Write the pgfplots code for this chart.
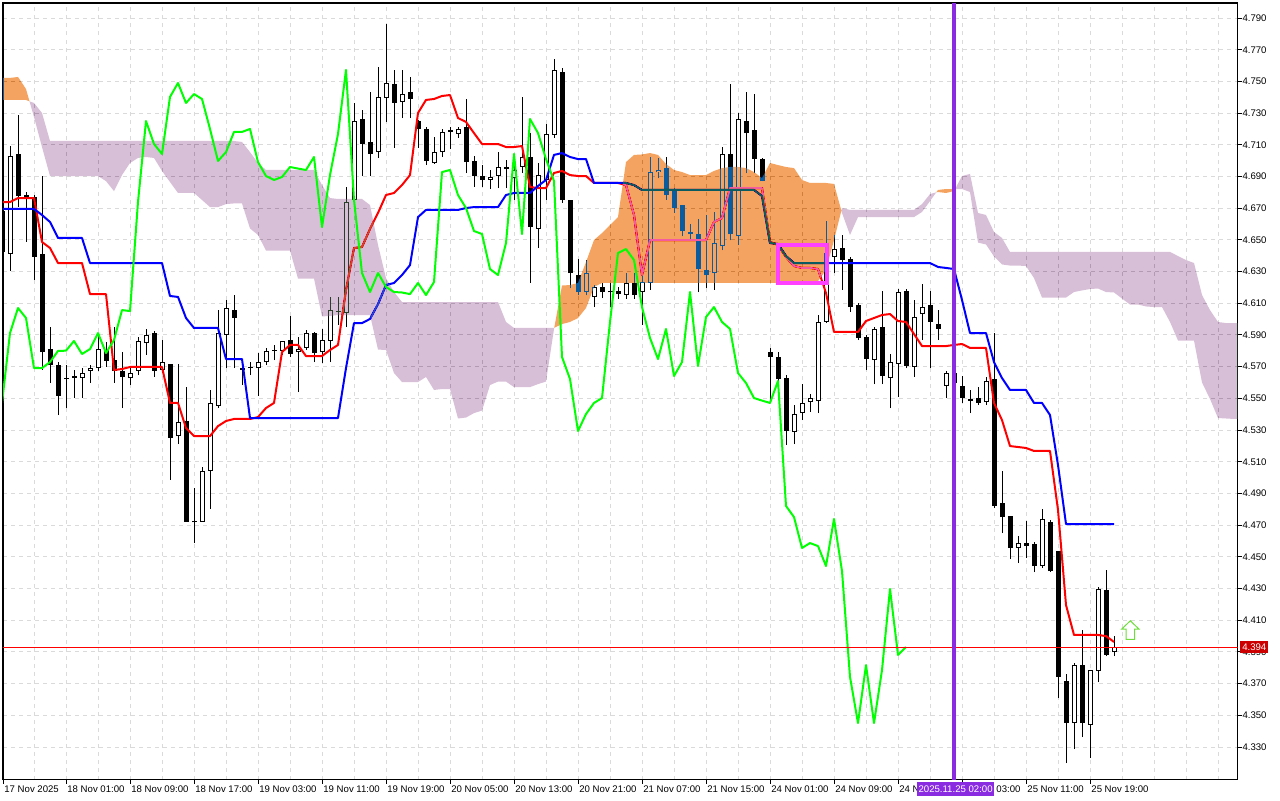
\documentclass[border=0pt]{standalone}
\usepackage{fontspec}
\setmainfont{Liberation Sans}
\usepackage{pgfplots}
\usepackage{pgfplotstable}
\pgfplotsset{compat=1.18}

\definecolor{sandyinv}{RGB}{11,91,159}   % inverse of sandy brown, blended with difference
\definecolor{thistleinv}{RGB}{39,64,39}  % inverse of thistle
\definecolor{gridc}{RGB}{218,218,218}
\definecolor{chikou}{RGB}{0,255,0}
\definecolor{vline}{RGB}{138,43,226}
\definecolor{boxmag}{RGB}{255,64,255}
\definecolor{pricebox}{RGB}{204,0,0}
\definecolor{arrowc}{RGB}{110,220,60}

\pgfdeclareplotmark{uparr}{%
  \pgfpathmoveto{\pgfqpoint{0pt}{4.65pt}}%
  \pgfpathlineto{\pgfqpoint{4.3pt}{0.5pt}}%
  \pgfpathlineto{\pgfqpoint{2.15pt}{0.5pt}}%
  \pgfpathlineto{\pgfqpoint{2.15pt}{-4.65pt}}%
  \pgfpathlineto{\pgfqpoint{-2.15pt}{-4.65pt}}%
  \pgfpathlineto{\pgfqpoint{-2.15pt}{0.5pt}}%
  \pgfpathlineto{\pgfqpoint{-4.3pt}{0.5pt}}%
  \pgfpathclose
  \pgfusepathqfillstroke}

% H1 candles: bar index, open, high, low, close
\pgfplotstableread{
i o h l c
0 4.6682 4.6752 4.6310 4.6424
1 4.6411 4.7092 4.6304 4.7029
2 4.7042 4.7288 4.6707 4.6777
3 4.6771 4.6802 4.6487 4.6783
4 4.6771 4.6783 4.6247 4.6392
5 4.6411 4.6903 4.5679 4.5792
6 4.5811 4.5950 4.5597 4.5710
7 4.5710 4.5729 4.5395 4.5515
8 4.5628 4.5710 4.5439 4.5622
9 4.5641 4.5679 4.5502 4.5628
10 4.5628 4.5691 4.5502 4.5660
11 4.5673 4.5710 4.5597 4.5691
12 4.5691 4.5912 4.5673 4.5811
13 4.5805 4.5856 4.5698 4.5736
14 4.5742 4.5950 4.5597 4.5673
15 4.5673 4.5792 4.5439 4.5635
16 4.5628 4.5698 4.5584 4.5660
17 4.5673 4.5887 4.5647 4.5862
18 4.5849 4.5938 4.5774 4.5900
19 4.5912 4.5925 4.5635 4.5673
20 4.5679 4.5868 4.5660 4.5729
21 4.5717 4.5717 4.4985 4.5250
22 4.5262 4.5717 4.5212 4.5351
23 4.5357 4.5571 4.4720 4.4720
24 4.4720 4.4934 4.4587 4.4717
25 4.4720 4.5067 4.4720 4.5042
26 4.5042 4.5553 4.4802 4.5471
27 4.5452 4.6057 4.5439 4.5912
28 4.5900 4.6121 4.5691 4.6070
29 4.6057 4.6152 4.5691 4.6007
30 4.5679 4.5710 4.5584 4.5691
31 4.5698 4.5729 4.5647 4.5691
32 4.5691 4.5786 4.5515 4.5729
33 4.5729 4.5818 4.5710 4.5799
34 4.5799 4.5837 4.5742 4.5801
35 4.5799 4.5862 4.5774 4.5862
36 4.5868 4.6020 4.5761 4.5780
37 4.5792 4.5887 4.5540 4.5811
38 4.5818 4.5931 4.5805 4.5912
39 4.5912 4.5919 4.5729 4.5786
40 4.5792 4.5938 4.5723 4.5868
41 4.5862 4.6140 4.5729 4.6057
42 4.6045 4.6140 4.5963 4.6051
43 4.6039 4.6834 4.5950 4.6739
44 4.6752 4.7364 4.6720 4.7250
45 4.7263 4.7320 4.6903 4.7105
46 4.7118 4.7433 4.6903 4.7042
47 4.7054 4.7591 4.7017 4.7402
48 4.7395 4.7862 4.7244 4.7490
49 4.7484 4.7572 4.7080 4.7364
50 4.7370 4.7572 4.7269 4.7420
51 4.7433 4.7528 4.7269 4.7389
52 4.7250 4.7256 4.7080 4.7200
53 4.7200 4.7212 4.6972 4.6998
54 4.6985 4.7149 4.6979 4.7054
55 4.7054 4.7200 4.7023 4.7181
56 4.7193 4.7212 4.7073 4.7181
57 4.7168 4.7212 4.7143 4.7200
58 4.7212 4.7389 4.6922 4.6991
59 4.6998 4.7029 4.6834 4.6903
60 4.6903 4.6972 4.6834 4.6878
61 4.6878 4.6941 4.6821 4.6897
62 4.6903 4.7054 4.6827 4.6960
63 4.6953 4.7004 4.6827 4.6950
64 4.6890 4.7004 4.6752 4.6941
65 4.6960 4.7402 4.6922 4.7023
66 4.7023 4.7174 4.6228 4.6581
67 4.6569 4.6985 4.6449 4.6909
68 4.6878 4.7231 4.6752 4.7168
69 4.7162 4.7641 4.7143 4.7572
70 4.7559 4.7585 4.6733 4.6752
71 4.6752 4.6752 4.6196 4.6291
72 4.6278 4.6379 4.6152 4.6171
73 4.6171 4.6373 4.6152 4.6291
74 4.6140 4.6215 4.6076 4.6203
75 4.6203 4.6228 4.6133 4.6171
76 4.6171 4.6228 4.6076 4.6168
77 4.6177 4.6203 4.6127 4.6158
78 4.6152 4.6291 4.6127 4.6228
79 4.6228 4.6291 4.6127 4.6152
80 4.6171 4.6310 4.5963 4.6234
81 4.6228 4.7023 4.6184 4.6928
82 4.6928 4.7017 4.6890 4.6941
83 4.6953 4.7023 4.6752 4.6783
84 4.6821 4.6827 4.6670 4.6701
85 4.6720 4.6720 4.6524 4.6556
86 4.6550 4.6600 4.6499 4.6537
87 4.6537 4.6632 4.6171 4.6316
88 4.6310 4.6657 4.6196 4.6278
89 4.6291 4.6676 4.6184 4.6480
90 4.6461 4.7086 4.6436 4.7042
91 4.7042 4.7484 4.6499 4.6537
92 4.6524 4.7301 4.6468 4.7263
93 4.7250 4.7433 4.6922 4.7174
94 4.7193 4.7420 4.6922 4.7010
95 4.7010 4.7017 4.6871 4.6871
96 4.5792 4.5818 4.5477 4.5761
97 4.5761 4.5792 4.5584 4.5622
98 4.5628 4.5647 4.5206 4.5294
99 4.5288 4.5458 4.5212 4.5401
100 4.5407 4.5590 4.5363 4.5471
101 4.5477 4.5527 4.5414 4.5502
102 4.5483 4.6026 4.5407 4.5982
103 4.5982 4.6619 4.5975 4.6417
104 4.6392 4.6531 4.6291 4.6442
105 4.6449 4.6531 4.6184 4.6373
106 4.6379 4.6392 4.6045 4.6076
107 4.6089 4.6102 4.5868 4.5881
108 4.5887 4.5900 4.5679 4.5748
109 4.5742 4.5950 4.5590 4.5938
110 4.5950 4.6177 4.5590 4.5641
111 4.5628 4.5780 4.5439 4.5729
112 4.5717 4.6190 4.5509 4.6171
113 4.6177 4.6190 4.5691 4.5704
114 4.5698 4.6121 4.5635 4.6013
115 4.6032 4.6222 4.5868 4.6076
116 4.6089 4.6177 4.5691 4.5982
117 4.5969 4.6057 4.5868 4.5938
118 4.5578 4.5673 4.5502 4.5660
119 4.5660 4.5691 4.5540 4.5597
120 4.5578 4.5641 4.5471 4.5502
121 4.5490 4.5553 4.5407 4.5486
122 4.5502 4.5571 4.5458 4.5471
123 4.5477 4.5635 4.5458 4.5610
124 4.5622 4.5912 4.4808 4.4821
125 4.4840 4.5042 4.4650 4.4751
126 4.4758 4.4758 4.4486 4.4556
127 4.4556 4.4631 4.4461 4.4587
128 4.4587 4.4726 4.4493 4.4568
129 4.4581 4.4594 4.4404 4.4442
130 4.4442 4.4802 4.4430 4.4739
131 4.4720 4.4732 4.4404 4.4410
132 4.4537 4.4537 4.3609 4.3742
133 4.3716 4.3761 4.3199 4.3451
134 4.3451 4.3830 4.3287 4.3817
135 4.3817 4.4038 4.3363 4.3451
136 4.3439 4.3786 4.3231 4.3786
137 4.3779 4.4310 4.3710 4.4297
138 4.4291 4.4417 4.3874 4.3881
139 4.3899 4.4000 4.3874 4.3931
}\candles

% Tenkan-sen (t) and Kijun-sen (k)
\pgfplotstableread{
i t k
0 4.6739 4.6695
1 4.6739 4.6695
2 4.6764 4.6695
3 4.6764 4.6695
4 4.6764 4.6695
5 4.6487 4.6657
6 4.6449 4.6613
7 4.6354 4.6512
8 4.6354 4.6512
9 4.6354 4.6512
10 4.6354 4.6512
11 4.6158 4.6354
12 4.6158 4.6354
13 4.6158 4.6354
14 4.5679 4.6354
15 4.5685 4.6354
16 4.5698 4.6354
17 4.5698 4.6354
18 4.5698 4.6354
19 4.5698 4.6354
20 4.5698 4.6354
21 4.5471 4.6146
22 4.5471 4.6140
23 4.5313 4.6007
24 4.5262 4.5944
25 4.5262 4.5944
26 4.5262 4.5944
27 4.5325 4.5944
28 4.5357 4.5748
29 4.5370 4.5748
30 4.5370 4.5748
31 4.5370 4.5376
32 4.5382 4.5376
33 4.5439 4.5376
34 4.5471 4.5376
35 4.5792 4.5376
36 4.5837 4.5376
37 4.5837 4.5376
38 4.5767 4.5376
39 4.5767 4.5376
40 4.5767 4.5376
41 4.5805 4.5376
42 4.5837 4.5376
43 4.6184 4.5691
44 4.6449 4.5975
45 4.6455 4.5975
46 4.6569 4.6001
47 4.6670 4.6095
48 4.6783 4.6215
49 4.6796 4.6228
50 4.6846 4.6278
51 4.6909 4.6341
52 4.7301 4.6644
53 4.7383 4.6689
54 4.7389 4.6689
55 4.7408 4.6689
56 4.7414 4.6689
57 4.7269 4.6689
58 4.7244 4.6701
59 4.7174 4.6707
60 4.7105 4.6707
61 4.7105 4.6707
62 4.7105 4.6707
63 4.7086 4.6783
64 4.7086 4.6796
65 4.7092 4.6796
66 4.6834 4.6796
67 4.6827 4.6840
68 4.6827 4.6878
69 4.6922 4.7036
70 4.6935 4.7048
71 4.6909 4.7023
72 4.6903 4.7010
73 4.6903 4.7010
74 4.6859 4.6859
75 4.6859 4.6859
76 4.6859 4.6859
77 4.6859 4.6859
78 4.6846 4.6859
79 4.6657 4.6846
80 4.6278 4.6815
81 4.6499 4.6815
82 4.6499 4.6815
83 4.6499 4.6815
84 4.6499 4.6815
85 4.6499 4.6815
86 4.6499 4.6815
87 4.6499 4.6815
88 4.6499 4.6815
89 4.6613 4.6815
90 4.6638 4.6815
91 4.6827 4.6815
92 4.6827 4.6815
93 4.6827 4.6815
94 4.6827 4.6815
95 4.6827 4.6777
96 4.6487 4.6480
97 4.6468 4.6474
98 4.6392 4.6398
99 4.6335 4.6354
100 4.6323 4.6354
101 4.6323 4.6354
102 4.6316 4.6354
103 4.6165 4.6354
104 4.5919 4.6354
105 4.5919 4.6354
106 4.5919 4.6354
107 4.5919 4.6354
108 4.5988 4.6354
109 4.6007 4.6354
110 4.6026 4.6354
111 4.6032 4.6354
112 4.5988 4.6354
113 4.5982 4.6354
114 4.5906 4.6354
115 4.5830 4.6354
116 4.5830 4.6354
117 4.5830 4.6329
118 4.5830 4.6323
119 4.5837 4.6316
120 4.5843 4.6121
121 4.5818 4.5912
122 4.5818 4.5912
123 4.5818 4.5912
124 4.5471 4.5729
125 4.5363 4.5628
126 4.5199 4.5553
127 4.5193 4.5553
128 4.5187 4.5553
129 4.5168 4.5471
130 4.5168 4.5471
131 4.5168 4.5395
132 4.4796 4.5079
133 4.4196 4.4707
134 4.4007 4.4707
135 4.4007 4.4707
136 4.4007 4.4707
137 4.4007 4.4707
138 4.4000 4.4707
139 4.3963 4.4707
}\lines

% Chikou span (close shifted 26 bars back)
\pgfplotstableread{
i ch
0 4.5471
1 4.5912
2 4.6070
3 4.6007
4 4.5691
5 4.5691
6 4.5729
7 4.5799
8 4.5801
9 4.5862
10 4.5780
11 4.5811
12 4.5912
13 4.5786
14 4.5868
15 4.6057
16 4.6051
17 4.6739
18 4.7250
19 4.7105
20 4.7042
21 4.7402
22 4.7490
23 4.7364
24 4.7420
25 4.7389
26 4.7200
27 4.6998
28 4.7054
29 4.7181
30 4.7181
31 4.7200
32 4.6991
33 4.6903
34 4.6878
35 4.6897
36 4.6960
37 4.6950
38 4.6941
39 4.7023
40 4.6581
41 4.6909
42 4.7168
43 4.7572
44 4.6752
45 4.6291
46 4.6171
47 4.6291
48 4.6203
49 4.6171
50 4.6168
51 4.6158
52 4.6228
53 4.6152
54 4.6234
55 4.6928
56 4.6941
57 4.6783
58 4.6701
59 4.6556
60 4.6537
61 4.6316
62 4.6278
63 4.6480
64 4.7042
65 4.6537
66 4.7263
67 4.7174
68 4.7010
69 4.6871
70 4.5761
71 4.5622
72 4.5294
73 4.5401
74 4.5471
75 4.5502
76 4.5982
77 4.6417
78 4.6442
79 4.6373
80 4.6076
81 4.5881
82 4.5748
83 4.5938
84 4.5641
85 4.5729
86 4.6171
87 4.5704
88 4.6013
89 4.6076
90 4.5982
91 4.5938
92 4.5660
93 4.5597
94 4.5502
95 4.5486
96 4.5471
97 4.5610
98 4.4821
99 4.4751
100 4.4556
101 4.4587
102 4.4568
103 4.4442
104 4.4739
105 4.4410
106 4.3742
107 4.3451
108 4.3817
109 4.3451
110 4.3786
111 4.4297
112 4.3881
113 4.3931
}\chikoutab

\begin{document}
\begin{tikzpicture}
\useasboundingbox (0,0) rectangle (640pt,400pt);
\begin{axis}[
    at={(1.5pt,10.25pt)}, anchor=south west,
    width=617.25pt, height=388.25pt, scale only axis,
    xmin=0.125, xmax=154.4375, ymin=4.3095, ymax=4.79947,
    axis background/.style={fill=white},
    axis line style={black, line width=0.6pt},
    xtick={0.125,8,16,24,32,40,48,56,64,72,80,88,96,104,112,120,128,136},
    xticklabels={17 Nov 2025,18 Nov 01:00,18 Nov 09:00,18 Nov 17:00,19 Nov 03:00,19 Nov 11:00,19 Nov 19:00,20 Nov 05:00,20 Nov 13:00,20 Nov 21:00,21 Nov 07:00,21 Nov 15:00,24 Nov 01:00,24 Nov 09:00,24 Nov 17:00,25 Nov 03:00,25 Nov 11:00,25 Nov 19:00},
    minor xtick={4,12,...,132,140,144,148,152},
    ytick={4.33,4.35,4.37,4.39,4.41,4.43,4.45,4.47,4.49,4.51,4.53,4.55,4.57,4.59,4.61,4.63,4.65,4.67,4.69,4.71,4.73,4.75,4.77,4.79},
    yticklabels={4.330,4.350,4.370,4.390,4.410,4.430,4.450,4.470,4.490,4.510,4.530,4.550,4.570,4.590,4.610,4.630,4.650,4.670,4.690,4.710,4.730,4.750,4.770,4.790},
    xtick pos=left, ytick pos=right, yticklabel pos=right,
    tick align=outside, major tick length=2pt, minor tick length=0pt,
    tick style={black, line width=0.5pt},
    grid=both,
    major grid style={gridc, dash pattern=on 2pt off 2pt, line width=0.5pt},
    minor grid style={gridc, dash pattern=on 2pt off 2pt, line width=0.5pt},
    tick label style={font=\fontsize{4.8}{5.5}\selectfont, inner sep=0pt},
    xticklabel style={anchor=north west, xshift=0.5pt, yshift=-1pt},
    yticklabel style={anchor=west, xshift=0.3pt},
  ]

  % candles: wicks, body outlines, white interiors
  \addplot[draw=none, mark=none, error bars/.cd, y dir=plus, y explicit, error mark=none,
    error bar style={draw=black, solid, line width=0.5pt}]
    table[x=i, y=l, y error expr=\thisrow{h}-\thisrow{l}] {\candles};
  \addplot[draw=none, mark=none, error bars/.cd, y dir=plus, y explicit, error mark=none,
    error bar style={draw=black, solid, line width=2.5pt}]
    table[x=i, y expr={min(\thisrow{o},\thisrow{c})}, y error expr={max(abs(\thisrow{c}-\thisrow{o}),0.0007)}] {\candles};
  \addplot[draw=none, mark=none, error bars/.cd, y dir=plus, y explicit, error mark=none,
    error bar style={draw=white, solid, line width=1.5pt}]
    table[x=i, y expr=\thisrow{o}+0.00063, y error expr={max(\thisrow{c}-\thisrow{o}-0.00126,0)}] {\candles};

  % Tenkan and Kijun
  \addplot[red, line width=1pt, line join=round] table[x=i, y=t] {\lines};
  \addplot[blue, line width=1pt, line join=round] table[x=i, y=k] {\lines};

  % Kumo, inverting what lies beneath it
  \addplot[draw=none, fill=sandyinv, blend mode=difference] coordinates {
    (0,4.7522) (1,4.7522) (2,4.7528) (3,4.7452) (3.44,4.7374)
    (3,4.7383) (2,4.7383) (1,4.7383) (0,4.7383)} -- cycle;
  \addplot[draw=none, fill=thistleinv, blend mode=difference] coordinates {
    (3.44,4.7374) (4,4.7364) (5,4.7301) (6,4.7124) (29,4.7124) (30,4.7118) (31,4.7054)
    (32,4.6985) (33,4.6941) (39,4.6941) (40,4.6846) (41,4.6764) (42,4.6758) (45,4.6758)
    (46,4.6720) (47,4.6468) (48,4.6259) (49,4.6171) (50,4.6108) (62,4.6108) (63,4.5982)
    (64,4.5944) (69,4.5944) (69.03,4.5945)
    (69,4.5938) (68,4.5606) (67,4.5590) (66,4.5571) (64,4.5571) (63,4.5606) (62,4.5606)
    (61,4.5584) (60,4.5423) (59,4.5407) (58,4.5379) (57,4.5373) (56,4.5559) (55,4.5559)
    (54,4.5553) (53,4.5635) (52,4.5603) (50,4.5603) (49,4.5660) (48,4.5805) (47,4.5808)
    (46,4.6026) (42,4.6026) (41,4.6020) (40,4.6017) (39,4.6256) (37,4.6256) (36,4.6433)
    (33,4.6433) (32,4.6531) (31,4.6572) (30,4.6730) (29,4.6730) (28,4.6726) (27,4.6707)
    (26,4.6707) (25,4.6752) (24,4.6796) (22,4.6796) (21,4.6865) (20,4.6935) (19,4.7017)
    (18,4.7023) (17,4.7017) (16,4.6985) (15,4.6909) (14,4.6808) (13,4.6871) (12,4.6903)
    (6,4.6903) (5,4.7086) (4,4.7275)} -- cycle;
  \addplot[draw=none, fill=sandyinv, blend mode=difference] coordinates {
    (69.03,4.5945) (70,4.6212) (71,4.6215) (72,4.6228) (73,4.6360) (74,4.6499) (75,4.6543)
    (76,4.6594) (77,4.6644) (78,4.6991) (79,4.7036) (80,4.7039) (81,4.7048) (82,4.7036)
    (83,4.6979) (84,4.6941) (85,4.6928) (86,4.6909) (88,4.6909) (89,4.6935) (90,4.6953)
    (91,4.6960) (92,4.6960) (93,4.6953) (94,4.6928) (95,4.6890) (96,4.6985) (97,4.6972)
    (98,4.6960) (99,4.6953) (100,4.6878) (101,4.6859) (103,4.6859) (104,4.6853)
    (104.92,4.6685)
    (104,4.6499) (103,4.6310) (102,4.6240) (101,4.6228) (75,4.6228) (74,4.6203)
    (73,4.6070) (72,4.6007) (71,4.5982) (70,4.5969)} -- cycle;
  \addplot[draw=none, fill=thistleinv, blend mode=difference] coordinates {
    (104.92,4.6685) (105,4.6701) (106,4.6689) (114,4.6689) (115,4.6726) (116,4.6789)
    (116.78,4.6800)
    (116,4.6745) (115,4.6676) (114,4.6644) (107,4.6644) (106,4.6531) (105,4.6670)} -- cycle;
  \addplot[draw=none, fill=sandyinv, blend mode=difference] coordinates {
    (116.78,4.6800) (117,4.6815) (118,4.6821) (119,4.6821) (119.13,4.6821)
    (119,4.6808) (118,4.6796) (117,4.6802)} -- cycle;
  \addplot[draw=none, fill=thistleinv, blend mode=difference] coordinates {
    (119.13,4.6821) (120,4.6903) (121,4.6916) (122,4.6670) (123,4.6657) (124,4.6550)
    (125,4.6512) (126,4.6424) (146,4.6424) (147,4.6398) (148,4.6373) (149,4.6354)
    (150,4.6152) (151,4.6057) (152,4.5982) (153,4.5975) (156,4.5975)
    (156,4.5370) (154,4.5370) (153,4.5373) (152,4.5376) (151,4.5496) (150,4.5600)
    (149,4.5865) (147,4.5865) (146,4.5982) (145,4.6076) (144,4.6076) (143,4.6080)
    (142,4.6092) (141,4.6092) (140,4.6130) (139,4.6168) (138,4.6171) (137,4.6193)
    (136,4.6190) (135,4.6181) (134,4.6171) (133,4.6136) (130,4.6136) (129,4.6259)
    (128,4.6335) (127,4.6338) (126,4.6338) (125,4.6345) (124,4.6395) (123,4.6471)
    (122,4.6483) (121,4.6802) (120,4.6821)} -- cycle;

  % Chikou span
  \addplot[chikou, line width=1pt, line join=round] table[x=i, y=ch] {\chikoutab};

  % bid line, highlight box, period separator, signal arrow
  \addplot[red, line width=0.5pt] coordinates {(0,4.3931) (156,4.3931)};
  \addplot[boxmag, line width=2pt, line join=miter] coordinates {
    (97,4.6468) (103.1,4.6468) (103.1,4.6228) (97,4.6228)} -- cycle;
  \addplot[vline, line width=2.3pt] coordinates {(119,4.3095) (119,4.79947)};
  \addplot[only marks, mark=uparr, mark options={draw=arrowc, fill=white, line width=0.5pt}]
    coordinates {(141.04,4.4038)};

  \coordinate (vl) at (axis cs:119.2,4.3095);
  \coordinate (pl) at (axis cs:154.4375,4.3931);
\end{axis}
\node[fill=vline, text=white, anchor=north, inner xsep=0.6pt, inner ysep=0pt,
  minimum height=7pt, yshift=-1.25pt, font=\fontsize{4.8}{5.5}\selectfont] at (vl) {2025.11.25 02:00};
\node[fill=pricebox, text=white, anchor=west, inner xsep=1pt, inner ysep=0pt,
  minimum height=6pt, xshift=1.2pt, font=\fontsize{4.8}{5.5}\selectfont] at (pl) {4.394};
\end{tikzpicture}
\end{document}
